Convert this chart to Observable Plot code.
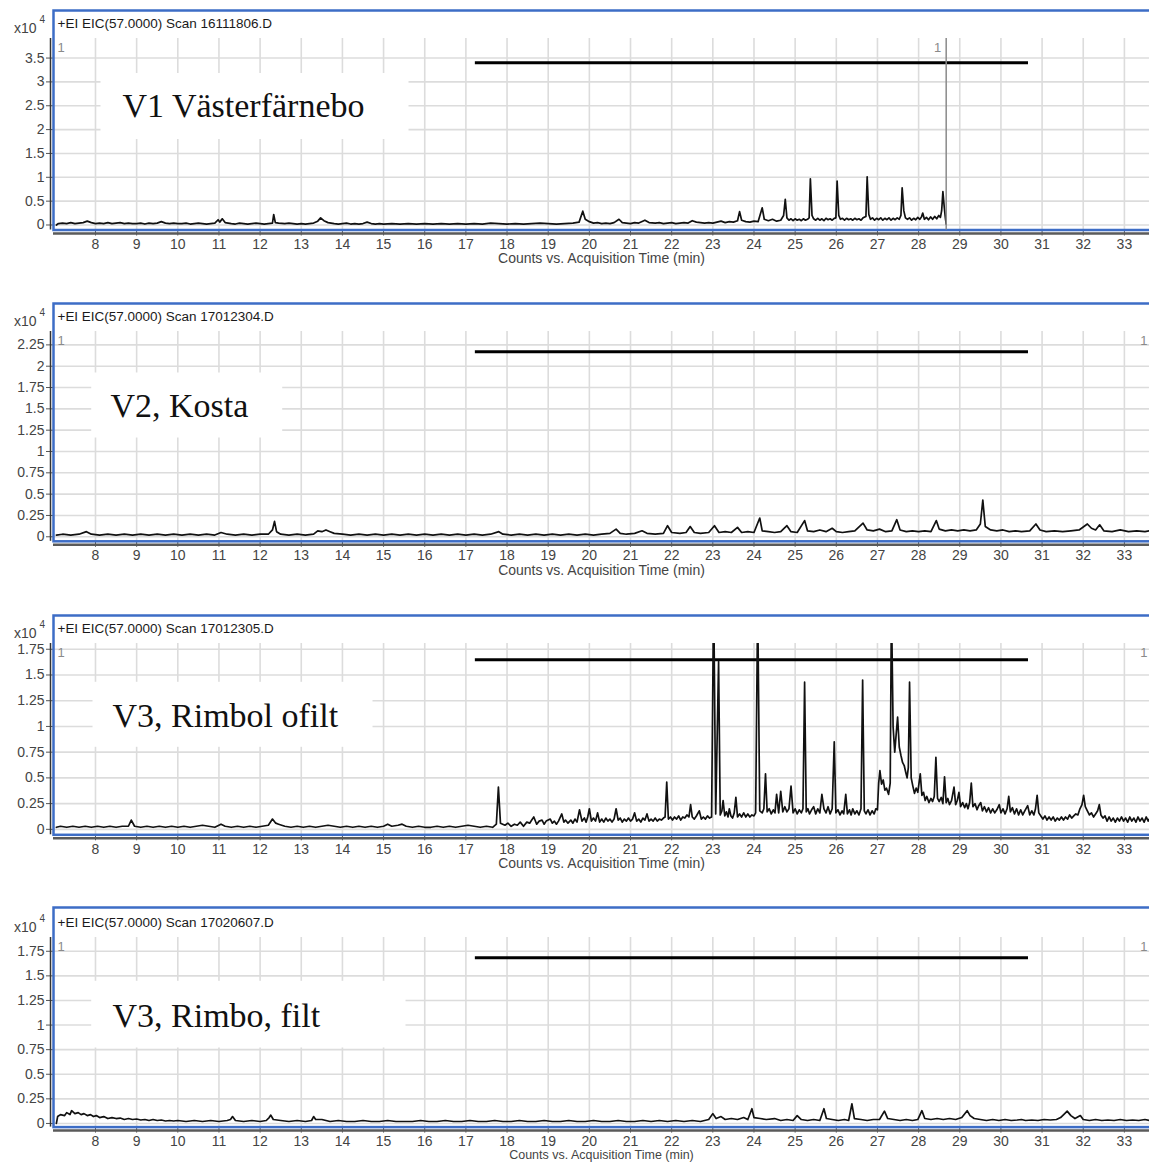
<!DOCTYPE html>
<html>
<head>
<meta charset="utf-8">
<script src="https://cdn.jsdelivr.net/npm/d3@7"></script>
<script src="https://cdn.jsdelivr.net/npm/@observablehq/plot@0.6"></script>
<style>
html, body { margin: 0; padding: 0; background: #fff; overflow: hidden; }
#root { position: relative; width: 1149px; height: 1162px; overflow: hidden; background: #fff; }
.panel { position: absolute; left: 0; }
</style>
</head>
<body>
<div id="root"></div>
<script>
// ---------- data ----------
const xTicks = [8, 9, 10, 11, 12, 13, 14, 15, 16, 17, 18, 19, 20, 21, 22, 23, 24, 25, 26, 27, 28, 29, 30, 31, 32, 33];
const xTitle = "Counts vs. Acquisition Time (min)";
const scanTitles = [
  "+EI EIC(57.0000) Scan 16111806.D",
  "+EI EIC(57.0000) Scan 17012304.D",
  "+EI EIC(57.0000) Scan 17012305.D",
  "+EI EIC(57.0000) Scan 17020607.D"
];
const sampleNames = ["V1 Västerfärnebo", "V2, Kosta", "V3, Rimbol ofilt", "V3, Rimbo, filt"];
const yTicks1 = [0, 0.5, 1, 1.5, 2, 2.5, 3, 3.5];
const yTicks2 = [0, 0.25, 0.5, 0.75, 1, 1.25, 1.5, 1.75, 2, 2.25];
const yTicks3 = [0, 0.25, 0.5, 0.75, 1, 1.25, 1.5, 1.75];
const yTicks4 = [0, 0.25, 0.5, 0.75, 1, 1.25, 1.5, 1.75];
const yScaleLabel = "x10";
const yScaleExp = "4";
const traceLabel = "1";
const refBarStart = 17.23;
const refBarEnd = 30.67;
const refBarLevels = [3.40, 2.17, 1.647, 1.684];
const v1RunEnd = 28.67;

// [time (min), counts x10^4]
const v1Trace = [[7.05,0.0],[7.1,0.03],[7.2,0.04],[7.3,0.03],[7.4,0.05],[7.5,0.03],[7.6,0.04],[7.7,0.05],[7.8,0.08],[7.9,0.05],[8.0,0.03],[8.1,0.04],[8.2,0.03],[8.3,0.05],[8.4,0.03],[8.5,0.04],[8.6,0.05],[8.7,0.03],[8.8,0.04],[8.9,0.03],[9.0,0.03],[9.1,0.04],[9.2,0.02],[9.3,0.04],[9.4,0.03],[9.5,0.04],[9.6,0.07],[9.7,0.04],[9.8,0.03],[9.9,0.04],[10.0,0.03],[10.1,0.03],[10.2,0.04],[10.3,0.02],[10.4,0.03],[10.5,0.04],[10.6,0.03],[10.7,0.02],[10.8,0.03],[10.9,0.04],[10.98,0.11],[11.02,0.06],[11.08,0.13],[11.15,0.05],[11.3,0.03],[11.4,0.02],[11.5,0.04],[11.6,0.03],[11.7,0.02],[11.8,0.03],[11.9,0.04],[12.0,0.03],[12.1,0.02],[12.2,0.03],[12.3,0.04],[12.33,0.22],[12.37,0.05],[12.45,0.04],[12.6,0.03],[12.7,0.04],[12.8,0.03],[12.9,0.02],[13.0,0.03],[13.1,0.02],[13.2,0.03],[13.3,0.04],[13.4,0.08],[13.47,0.15],[13.55,0.09],[13.65,0.05],[13.8,0.03],[13.9,0.02],[14.0,0.03],[14.1,0.04],[14.2,0.02],[14.3,0.03],[14.4,0.02],[14.5,0.03],[14.6,0.06],[14.7,0.03],[14.8,0.02],[14.9,0.03],[15.0,0.02],[15.2,0.03],[15.4,0.02],[15.6,0.03],[15.8,0.02],[16.0,0.03],[16.2,0.02],[16.4,0.03],[16.6,0.02],[16.8,0.03],[17.0,0.02],[17.2,0.03],[17.4,0.02],[17.6,0.04],[17.8,0.03],[18.0,0.02],[18.2,0.03],[18.4,0.02],[18.6,0.03],[18.8,0.04],[19.0,0.03],[19.2,0.02],[19.4,0.03],[19.6,0.04],[19.75,0.06],[19.84,0.29],[19.9,0.12],[20.0,0.07],[20.1,0.04],[20.2,0.05],[20.3,0.03],[20.4,0.04],[20.5,0.03],[20.6,0.05],[20.72,0.12],[20.8,0.05],[20.9,0.04],[21.0,0.03],[21.1,0.05],[21.2,0.04],[21.35,0.1],[21.45,0.05],[21.6,0.04],[21.7,0.05],[21.8,0.03],[21.9,0.04],[22.0,0.05],[22.1,0.03],[22.2,0.04],[22.3,0.05],[22.4,0.04],[22.5,0.09],[22.6,0.06],[22.7,0.05],[22.8,0.04],[22.9,0.05],[23.0,0.04],[23.1,0.06],[23.2,0.08],[23.3,0.05],[23.4,0.07],[23.5,0.06],[23.6,0.09],[23.65,0.28],[23.7,0.1],[23.8,0.07],[23.9,0.06],[24.0,0.08],[24.1,0.07],[24.2,0.36],[24.25,0.12],[24.35,0.09],[24.45,0.12],[24.55,0.08],[24.65,0.1],[24.72,0.2],[24.76,0.54],[24.8,0.15],[24.85,0.1],[24.9,0.13],[24.95,0.09],[25.0,0.13],[25.05,0.1],[25.1,0.12],[25.15,0.09],[25.2,0.13],[25.25,0.1],[25.3,0.12],[25.34,0.15],[25.37,0.97],[25.41,0.2],[25.45,0.13],[25.5,0.1],[25.55,0.14],[25.6,0.1],[25.65,0.13],[25.7,0.09],[25.75,0.14],[25.8,0.11],[25.85,0.13],[25.9,0.1],[25.95,0.14],[25.99,0.15],[26.02,0.92],[26.06,0.2],[26.1,0.12],[26.15,0.14],[26.2,0.1],[26.25,0.14],[26.3,0.11],[26.35,0.13],[26.4,0.1],[26.45,0.14],[26.5,0.11],[26.55,0.13],[26.6,0.1],[26.65,0.15],[26.72,0.18],[26.75,1.01],[26.79,0.22],[26.83,0.12],[26.88,0.15],[26.93,0.1],[26.98,0.14],[27.03,0.11],[27.08,0.15],[27.13,0.1],[27.18,0.14],[27.23,0.11],[27.28,0.15],[27.33,0.1],[27.38,0.14],[27.43,0.11],[27.48,0.15],[27.53,0.12],[27.57,0.2],[27.6,0.78],[27.64,0.3],[27.68,0.15],[27.73,0.12],[27.78,0.15],[27.83,0.1],[27.88,0.14],[27.93,0.11],[27.98,0.16],[28.03,0.12],[28.07,0.17],[28.1,0.25],[28.14,0.12],[28.19,0.16],[28.24,0.11],[28.29,0.17],[28.34,0.12],[28.39,0.18],[28.44,0.13],[28.49,0.2],[28.53,0.16],[28.56,0.3],[28.59,0.7],[28.62,0.4],[28.65,0.15],[28.67,0.02]];

const v2Trace = [[7.05,0.02],[7.2,0.03],[7.4,0.02],[7.6,0.03],[7.78,0.06],[7.9,0.03],[8.1,0.02],[8.3,0.03],[8.5,0.02],[8.7,0.03],[8.9,0.02],[9.1,0.03],[9.3,0.02],[9.5,0.03],[9.7,0.02],[9.9,0.03],[10.1,0.02],[10.3,0.03],[10.5,0.02],[10.7,0.03],[10.9,0.02],[11.05,0.05],[11.2,0.03],[11.4,0.02],[11.6,0.03],[11.8,0.02],[12.0,0.03],[12.2,0.03],[12.3,0.08],[12.35,0.18],[12.4,0.06],[12.5,0.03],[12.7,0.02],[12.9,0.03],[13.1,0.02],[13.3,0.03],[13.4,0.07],[13.5,0.06],[13.6,0.08],[13.7,0.06],[13.8,0.04],[14.0,0.03],[14.2,0.02],[14.4,0.03],[14.6,0.02],[14.8,0.03],[15.0,0.02],[15.2,0.03],[15.4,0.02],[15.6,0.03],[15.8,0.02],[16.0,0.03],[16.2,0.02],[16.4,0.03],[16.6,0.02],[16.8,0.03],[17.0,0.02],[17.2,0.03],[17.4,0.02],[17.6,0.03],[17.8,0.06],[17.9,0.03],[18.1,0.02],[18.3,0.03],[18.5,0.02],[18.7,0.03],[18.9,0.02],[19.1,0.03],[19.3,0.02],[19.5,0.03],[19.7,0.02],[19.9,0.03],[20.1,0.02],[20.3,0.03],[20.5,0.04],[20.65,0.09],[20.75,0.04],[20.9,0.03],[21.1,0.04],[21.28,0.07],[21.4,0.04],[21.6,0.03],[21.8,0.04],[21.9,0.13],[22.0,0.05],[22.2,0.04],[22.35,0.05],[22.45,0.12],[22.55,0.05],[22.7,0.04],[22.9,0.05],[23.04,0.13],[23.15,0.05],[23.3,0.06],[23.45,0.05],[23.6,0.11],[23.7,0.05],[23.85,0.06],[24.0,0.05],[24.14,0.22],[24.2,0.07],[24.35,0.06],[24.5,0.05],[24.65,0.06],[24.8,0.13],[24.9,0.06],[25.05,0.05],[25.23,0.19],[25.3,0.07],[25.45,0.06],[25.6,0.08],[25.75,0.06],[25.9,0.1],[26.0,0.06],[26.15,0.05],[26.3,0.06],[26.45,0.07],[26.65,0.16],[26.75,0.08],[26.9,0.07],[27.05,0.09],[27.2,0.06],[27.35,0.07],[27.47,0.2],[27.55,0.08],[27.7,0.06],[27.85,0.07],[28.0,0.06],[28.15,0.07],[28.3,0.06],[28.43,0.19],[28.5,0.09],[28.65,0.07],[28.8,0.08],[28.95,0.07],[29.1,0.08],[29.25,0.07],[29.4,0.08],[29.5,0.15],[29.56,0.43],[29.62,0.12],[29.75,0.08],[29.9,0.07],[30.05,0.08],[30.2,0.06],[30.35,0.07],[30.5,0.06],[30.7,0.07],[30.85,0.15],[30.95,0.08],[31.1,0.06],[31.3,0.07],[31.5,0.06],[31.7,0.07],[31.9,0.08],[32.1,0.15],[32.2,0.1],[32.3,0.08],[32.4,0.14],[32.5,0.07],[32.7,0.06],[32.9,0.08],[33.1,0.06],[33.3,0.07],[33.5,0.06],[33.62,0.07]];

const v3Trace = [[7.05,0.02],[7.15,0.03],[7.3,0.02],[7.45,0.03],[7.6,0.02],[7.75,0.03],[7.9,0.02],[8.05,0.03],[8.2,0.02],[8.35,0.03],[8.5,0.02],[8.65,0.03],[8.8,0.03],[8.87,0.09],[8.95,0.03],[9.1,0.02],[9.25,0.03],[9.4,0.02],[9.55,0.03],[9.7,0.02],[9.85,0.03],[10.0,0.02],[10.15,0.03],[10.3,0.02],[10.45,0.03],[10.6,0.04],[10.75,0.03],[10.9,0.02],[11.05,0.05],[11.15,0.03],[11.3,0.02],[11.45,0.03],[11.6,0.02],[11.75,0.03],[11.9,0.02],[12.05,0.03],[12.2,0.04],[12.3,0.1],[12.38,0.06],[12.45,0.05],[12.6,0.03],[12.75,0.02],[12.9,0.03],[13.05,0.02],[13.2,0.03],[13.35,0.02],[13.5,0.03],[13.65,0.04],[13.8,0.03],[13.95,0.02],[14.1,0.03],[14.25,0.02],[14.4,0.03],[14.55,0.02],[14.7,0.03],[14.85,0.02],[15.0,0.03],[15.1,0.05],[15.2,0.03],[15.35,0.04],[15.45,0.05],[15.55,0.03],[15.7,0.02],[15.85,0.03],[16.0,0.02],[16.15,0.02],[16.3,0.03],[16.45,0.02],[16.6,0.03],[16.75,0.02],[16.9,0.03],[17.05,0.04],[17.2,0.03],[17.35,0.02],[17.5,0.03],[17.65,0.02],[17.74,0.05],[17.79,0.41],[17.84,0.06],[17.95,0.04],[18.02,0.06],[18.1,0.03],[18.18,0.05],[18.25,0.04],[18.32,0.07],[18.4,0.03],[18.48,0.07],[18.55,0.06],[18.6,0.09],[18.65,0.12],[18.72,0.05],[18.78,0.08],[18.85,0.09],[18.9,0.05],[18.95,0.08],[19.05,0.1],[19.1,0.06],[19.15,0.08],[19.2,0.05],[19.25,0.08],[19.33,0.15],[19.38,0.07],[19.42,0.09],[19.48,0.06],[19.55,0.09],[19.6,0.06],[19.65,0.1],[19.7,0.07],[19.76,0.19],[19.82,0.08],[19.88,0.11],[19.92,0.07],[19.96,0.12],[20.0,0.2],[20.05,0.08],[20.1,0.11],[20.15,0.08],[20.2,0.16],[20.25,0.07],[20.3,0.1],[20.35,0.07],[20.4,0.11],[20.45,0.08],[20.5,0.1],[20.55,0.07],[20.6,0.1],[20.65,0.2],[20.7,0.09],[20.75,0.11],[20.8,0.07],[20.85,0.1],[20.9,0.08],[20.95,0.11],[21.0,0.08],[21.05,0.1],[21.1,0.16],[21.15,0.08],[21.2,0.1],[21.25,0.07],[21.3,0.11],[21.35,0.09],[21.4,0.15],[21.45,0.08],[21.5,0.1],[21.55,0.08],[21.6,0.11],[21.65,0.08],[21.7,0.1],[21.75,0.09],[21.8,0.11],[21.84,0.12],[21.88,0.46],[21.92,0.1],[21.97,0.12],[22.02,0.09],[22.07,0.12],[22.12,0.1],[22.17,0.13],[22.22,0.09],[22.27,0.12],[22.32,0.11],[22.37,0.14],[22.42,0.12],[22.46,0.24],[22.5,0.12],[22.55,0.1],[22.6,0.13],[22.67,0.18],[22.72,0.1],[22.77,0.12],[22.82,0.1],[22.87,0.13],[22.92,0.11],[22.97,0.12],[23.02,2.3],[23.07,0.15],[23.14,1.63],[23.18,0.14],[23.22,0.18],[23.25,0.28],[23.29,0.13],[23.33,0.17],[23.37,0.12],[23.4,0.2],[23.44,0.13],[23.48,0.11],[23.52,0.16],[23.56,0.31],[23.6,0.12],[23.65,0.15],[23.7,0.12],[23.75,0.16],[23.8,0.12],[23.85,0.15],[23.9,0.12],[23.95,0.14],[24.0,0.13],[24.04,0.16],[24.09,2.2],[24.14,0.18],[24.2,0.16],[24.24,0.2],[24.28,0.54],[24.32,0.17],[24.37,0.2],[24.42,0.15],[24.47,0.19],[24.51,0.16],[24.55,0.34],[24.6,0.16],[24.65,0.37],[24.7,0.17],[24.75,0.22],[24.8,0.17],[24.85,0.2],[24.9,0.42],[24.95,0.16],[25.0,0.2],[25.05,0.15],[25.1,0.19],[25.15,0.16],[25.19,0.2],[25.23,1.43],[25.27,0.17],[25.31,0.2],[25.35,0.15],[25.4,0.19],[25.45,0.22],[25.5,0.15],[25.55,0.2],[25.6,0.16],[25.65,0.34],[25.7,0.2],[25.75,0.16],[25.8,0.22],[25.85,0.15],[25.9,0.2],[25.95,0.85],[25.99,0.16],[26.04,0.19],[26.09,0.14],[26.14,0.18],[26.18,0.15],[26.23,0.34],[26.27,0.15],[26.32,0.19],[26.36,0.14],[26.4,0.2],[26.45,0.15],[26.5,0.18],[26.55,0.14],[26.6,0.2],[26.64,1.45],[26.68,0.18],[26.72,0.15],[26.77,0.19],[26.82,0.14],[26.87,0.18],[26.92,0.15],[26.96,0.2],[27.0,0.19],[27.03,0.45],[27.06,0.57],[27.1,0.44],[27.14,0.48],[27.18,0.38],[27.22,0.4],[27.27,0.34],[27.31,0.45],[27.34,2.2],[27.38,1.0],[27.42,0.75],[27.46,0.95],[27.49,1.09],[27.53,0.8],[27.57,0.72],[27.61,0.65],[27.65,0.62],[27.69,0.55],[27.72,0.5],[27.75,0.6],[27.78,1.43],[27.82,0.5],[27.86,0.42],[27.9,0.35],[27.94,0.4],[27.98,0.36],[28.01,0.45],[28.04,0.54],[28.08,0.33],[28.12,0.36],[28.16,0.28],[28.2,0.32],[28.25,0.26],[28.3,0.3],[28.34,0.27],[28.38,0.32],[28.42,0.7],[28.46,0.3],[28.5,0.27],[28.55,0.31],[28.59,0.25],[28.63,0.51],[28.67,0.26],[28.71,0.3],[28.75,0.24],[28.8,0.28],[28.86,0.41],[28.9,0.24],[28.94,0.28],[28.98,0.36],[29.02,0.22],[29.07,0.26],[29.12,0.21],[29.16,0.25],[29.2,0.2],[29.24,0.26],[29.28,0.45],[29.32,0.22],[29.37,0.25],[29.42,0.19],[29.46,0.23],[29.51,0.26],[29.55,0.18],[29.6,0.22],[29.65,0.17],[29.7,0.21],[29.75,0.16],[29.8,0.2],[29.85,0.16],[29.9,0.19],[29.96,0.24],[30.0,0.16],[30.05,0.2],[30.1,0.15],[30.15,0.2],[30.19,0.32],[30.23,0.17],[30.28,0.21],[30.33,0.15],[30.38,0.2],[30.43,0.14],[30.48,0.19],[30.53,0.14],[30.58,0.18],[30.65,0.23],[30.7,0.14],[30.75,0.18],[30.8,0.14],[30.84,0.2],[30.88,0.33],[30.92,0.16],[30.97,0.13],[31.02,0.1],[31.07,0.13],[31.12,0.09],[31.17,0.12],[31.22,0.09],[31.27,0.12],[31.32,0.08],[31.37,0.11],[31.42,0.09],[31.47,0.12],[31.52,0.09],[31.57,0.12],[31.62,0.1],[31.67,0.14],[31.72,0.11],[31.77,0.13],[31.82,0.15],[31.87,0.14],[31.92,0.2],[31.97,0.24],[32.01,0.33],[32.05,0.22],[32.1,0.18],[32.15,0.14],[32.2,0.16],[32.25,0.12],[32.3,0.15],[32.35,0.18],[32.39,0.24],[32.43,0.14],[32.48,0.11],[32.53,0.13],[32.58,0.08],[32.63,0.12],[32.68,0.08],[32.73,0.11],[32.78,0.07],[32.83,0.11],[32.88,0.08],[32.93,0.12],[32.98,0.08],[33.03,0.11],[33.08,0.07],[33.13,0.12],[33.18,0.08],[33.23,0.11],[33.28,0.07],[33.33,0.12],[33.38,0.08],[33.43,0.11],[33.48,0.07],[33.53,0.12],[33.58,0.08],[33.62,0.11]];

const v4Trace = [[7.05,0.0],[7.08,0.07],[7.15,0.09],[7.25,0.08],[7.3,0.11],[7.38,0.09],[7.42,0.13],[7.5,0.1],[7.58,0.11],[7.65,0.09],[7.72,0.1],[7.8,0.08],[7.88,0.09],[7.95,0.07],[8.02,0.08],[8.1,0.06],[8.2,0.07],[8.3,0.05],[8.4,0.06],[8.5,0.05],[8.6,0.055],[8.7,0.04],[8.8,0.05],[8.9,0.04],[9.0,0.045],[9.1,0.035],[9.2,0.04],[9.3,0.03],[9.4,0.04],[9.5,0.03],[9.6,0.035],[9.7,0.025],[9.8,0.03],[9.9,0.025],[10.0,0.03],[10.2,0.02],[10.4,0.03],[10.6,0.02],[10.8,0.03],[11.0,0.02],[11.2,0.03],[11.28,0.04],[11.33,0.07],[11.4,0.03],[11.6,0.02],[11.8,0.03],[12.0,0.02],[12.15,0.03],[12.22,0.06],[12.26,0.085],[12.32,0.04],[12.5,0.03],[12.7,0.02],[12.9,0.03],[13.1,0.02],[13.25,0.03],[13.3,0.07],[13.35,0.04],[13.5,0.04],[13.7,0.02],[13.9,0.03],[14.1,0.02],[14.3,0.02],[14.5,0.03],[14.7,0.02],[14.9,0.02],[15.1,0.03],[15.3,0.02],[15.5,0.02],[15.7,0.02],[15.9,0.03],[16.1,0.02],[16.3,0.02],[16.5,0.03],[16.7,0.02],[16.9,0.02],[17.1,0.03],[17.3,0.02],[17.5,0.02],[17.7,0.03],[17.9,0.02],[18.1,0.02],[18.3,0.03],[18.5,0.02],[18.7,0.02],[18.9,0.03],[19.1,0.02],[19.3,0.02],[19.5,0.03],[19.7,0.02],[19.9,0.02],[20.1,0.03],[20.3,0.02],[20.5,0.02],[20.7,0.03],[20.9,0.02],[21.1,0.02],[21.3,0.03],[21.5,0.02],[21.7,0.03],[21.9,0.02],[22.1,0.03],[22.3,0.02],[22.5,0.03],[22.7,0.02],[22.9,0.04],[23.0,0.1],[23.08,0.05],[23.2,0.07],[23.3,0.04],[23.45,0.05],[23.6,0.04],[23.75,0.06],[23.85,0.04],[23.95,0.15],[24.0,0.06],[24.15,0.05],[24.3,0.04],[24.5,0.05],[24.65,0.03],[24.8,0.04],[24.95,0.03],[25.05,0.08],[25.15,0.04],[25.3,0.03],[25.45,0.04],[25.6,0.03],[25.7,0.15],[25.76,0.05],[25.9,0.04],[26.05,0.03],[26.2,0.04],[26.3,0.03],[26.38,0.2],[26.44,0.05],[26.6,0.04],[26.75,0.03],[26.9,0.04],[27.05,0.04],[27.17,0.125],[27.25,0.05],[27.4,0.04],[27.55,0.03],[27.7,0.04],[27.85,0.03],[27.98,0.04],[28.08,0.13],[28.15,0.05],[28.3,0.04],[28.45,0.05],[28.6,0.04],[28.75,0.05],[28.9,0.04],[29.05,0.06],[29.18,0.13],[29.25,0.08],[29.35,0.05],[29.5,0.04],[29.65,0.03],[29.8,0.04],[29.95,0.03],[30.1,0.04],[30.25,0.03],[30.4,0.035],[30.5,0.04],[30.6,0.03],[30.75,0.035],[30.9,0.03],[31.05,0.04],[31.2,0.035],[31.35,0.04],[31.45,0.06],[31.55,0.1],[31.61,0.125],[31.7,0.08],[31.8,0.05],[31.93,0.08],[32.0,0.04],[32.15,0.03],[32.3,0.04],[32.45,0.03],[32.6,0.035],[32.75,0.03],[32.9,0.04],[33.05,0.03],[33.2,0.035],[33.35,0.03],[33.5,0.04],[33.62,0.03]];

// ---------- layout (pixels) ----------
const W = 1149;
const ML = 53, MT = 38, MB = 40;
const xDomain = [6.98, 33.61];
const panels = [
  {trace: v1Trace, ticks: yTicks1, top: -0.5, plotH: 191.5, yDomain: [-0.105, 3.91], frameUp: 28,
   box: [47, 34.5, 741, 91], label: [69, 68], titleDy: 29, titleSize: 14, cursor: true},
  {trace: v2Trace, ticks: yTicks2, top: 292.7, plotH: 209.8, yDomain: [-0.053, 2.407], frameUp: 28,
   box: [37.7, 41, 867.3, 103.8], label: [57, 74.8], titleDy: 29, titleSize: 14},
  {trace: v3Trace, ticks: yTicks3, top: 604.7, plotH: 191.3, yDomain: [-0.053, 1.806], frameUp: 28,
   box: [39, 38.3, 777, 88], label: [59, 72.3], titleDy: 29, titleSize: 14},
  {trace: v4Trace, ticks: yTicks4, top: 898.7, plotH: 189.6, yDomain: [-0.037, 1.89], frameUp: 30,
   box: [37.7, 43.3, 744, 79.6], label: [59, 78.3], titleDy: 28, titleSize: 12.5}
];

const root = document.getElementById("root");
const SANS = "'Liberation Sans', Arial, sans-serif";

panels.forEach((p, i) => {
  const marks = [
    Plot.gridX(xTicks, {stroke: "#dcdcdc", strokeOpacity: 1, strokeWidth: 1.6}),
    Plot.gridY(p.ticks, {stroke: "#dcdcdc", strokeOpacity: 1, strokeWidth: 1.6}),
    Plot.frame({fill: "white", stroke: null,
      insetLeft: p.box[0], insetTop: p.box[1], insetRight: p.box[2], insetBottom: p.box[3]}),
    Plot.axisX({ticks: xTicks, tickFormat: String, tickSize: 6, tickPadding: 3, stroke: "#555"}),
    Plot.axisY({ticks: p.ticks, tickFormat: String, tickSize: 7, tickPadding: 2, stroke: "#555"}),
    Plot.ruleY([p.yDomain[0]], {dy: 3.5, stroke: "#5a5a5a", strokeWidth: 2.5}),
    Plot.ruleX([xDomain[0]], {dx: -3, stroke: "#333", strokeWidth: 1.5}),
    Plot.ruleY([refBarLevels[i]], {x1: refBarStart, x2: refBarEnd, stroke: "#000", strokeWidth: 3}),
    Plot.line(p.trace, {x: d => d[0], y: d => d[1], stroke: "#111", strokeWidth: 1.7, clip: true}),
    Plot.frame({stroke: "#3d6dc6", strokeWidth: 2.5, insetTop: -p.frameUp, insetRight: -6}),
    Plot.text([scanTitles[i]], {text: d => d, frameAnchor: "top-left", dx: 4, dy: -14.5,
      textAnchor: "start", lineAnchor: "middle", fontSize: 13.5, fill: "#1a1a1a", fontFamily: SANS}),
    Plot.text([yScaleLabel], {text: d => d, frameAnchor: "top-left", dx: -17, dy: -9.5,
      textAnchor: "end", lineAnchor: "middle", fontSize: 14, fill: "#444", fontFamily: SANS}),
    Plot.text([yScaleExp], {text: d => d, frameAnchor: "top-left", dx: -14, dy: -19,
      textAnchor: "start", lineAnchor: "middle", fontSize: 10, fill: "#444", fontFamily: SANS}),
    Plot.text([traceLabel], {text: d => d, frameAnchor: "top-left", dx: 4, dy: 9,
      textAnchor: "start", lineAnchor: "middle", fontSize: 13, fill: "#8a8a8a", fontFamily: SANS}),
    Plot.text([sampleNames[i]], {text: d => d, frameAnchor: "top-left", dx: p.label[0], dy: p.label[1],
      textAnchor: "start", lineAnchor: "middle", fontSize: 34, fill: "#111",
      fontFamily: "'Liberation Serif', 'Times New Roman', serif"}),
    Plot.text([xTitle], {text: d => d, frameAnchor: "bottom", dy: p.titleDy,
      textAnchor: "middle", lineAnchor: "middle", fontSize: p.titleSize, fill: "#444", fontFamily: SANS})
  ];
  if (p.cursor) {
    marks.push(Plot.ruleX([v1RunEnd], {stroke: "#8a8a8a", strokeWidth: 1.5}));
    marks.push(Plot.text([v1RunEnd], {x: d => d, text: () => traceLabel, frameAnchor: "top", dx: -5, dy: 9,
      textAnchor: "end", lineAnchor: "middle", fontSize: 13, fill: "#8a8a8a", fontFamily: SANS}));
  } else {
    marks.push(Plot.text([traceLabel], {text: d => d, frameAnchor: "top-right", dx: -2, dy: 9,
      textAnchor: "end", lineAnchor: "middle", fontSize: 13, fill: "#8a8a8a", fontFamily: SANS}));
  }
  const chart = Plot.plot({
    width: W,
    height: MT + p.plotH + MB,
    marginLeft: ML, marginRight: 0, marginTop: MT, marginBottom: MB,
    x: {domain: xDomain},
    y: {domain: p.yDomain},
    style: {fontFamily: SANS, fontSize: "14px", color: "#444", background: "transparent", overflow: "visible"},
    marks
  });
  const div = document.createElement("div");
  div.className = "panel";
  div.style.top = p.top + "px";
  div.appendChild(chart);
  root.appendChild(div);
});
</script>
</body>
</html>
